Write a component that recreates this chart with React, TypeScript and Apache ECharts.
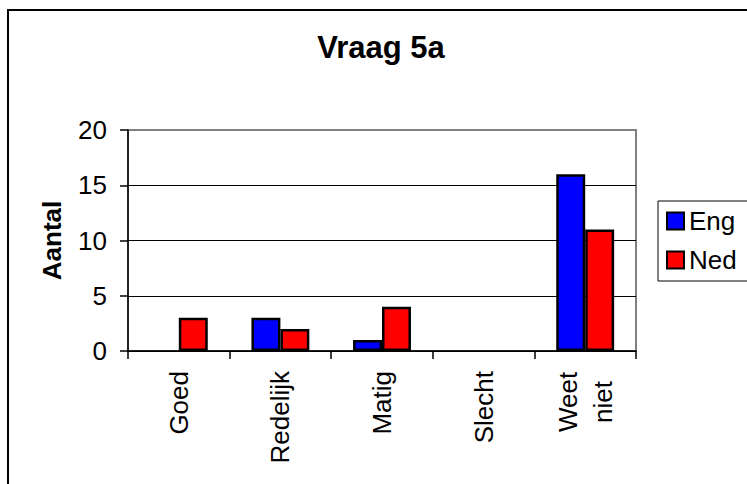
import React, { useEffect, useRef } from "react";
import * as echarts from "echarts";

const categories = ["Goed", "Redelijk", "Matig", "Slecht", "Weet niet"];
const engValues = [0, 3, 1, 0, 16];
const nedValues = [3, 2, 4, 0, 11];
const seriesNames = ["Eng", "Ned"];
const titleText = "Vraag 5a";
const yAxisName = "Aantal";

const FONT = "'Liberation Sans', Arial, Helvetica, sans-serif";
const FS = 26;

const toBarData = (vals: number[]) =>
  vals.map((v) => (v === 0 ? { value: v, itemStyle: { borderWidth: 0 } } : v));

export default function App() {
  const ref = useRef<HTMLDivElement>(null);
  useEffect(() => {
    if (!ref.current) return;
    const chart = echarts.init(ref.current, null, { renderer: "svg" });
    chart.setOption({
      animation: false,
      backgroundColor: "#ffffff",
      textStyle: { fontFamily: FONT, color: "#000" },
      graphic: [
        {
          type: "rect",
          shape: { x: 8, y: 10, width: 900, height: 600 },
          style: { fill: "none", stroke: "#000", lineWidth: 2 },
          z: 100,
        },
        {
          type: "rect",
          shape: { x: 658, y: 201, width: 200, height: 80 },
          style: { fill: "#fff", stroke: "#000", lineWidth: 1 },
          z: -1,
        },
        {
          type: "text",
          x: 381,
          y: 47,
          style: {
            text: titleText,
            font: `bold 31px ${FONT}`,
            fill: "#000",
            align: "center",
            verticalAlign: "middle",
          },
        },
      ],
      legend: {
        orient: "vertical",
        left: 666,
        top: 208,
        itemWidth: 17,
        itemHeight: 17,
        itemGap: 13,
        itemTextGap: 7,
        icon: "rect",
        padding: 0,
        textStyle: { fontSize: FS, fontFamily: FONT, color: "#000" },
        data: seriesNames,
      },
      grid: {
        left: 128,
        top: 130,
        right: 111,
        bottom: 133,
        show: true,
        borderColor: "#808080",
        borderWidth: 2,
        backgroundColor: "transparent",
      },
      xAxis: {
        type: "category",
        data: categories,
        axisLine: { lineStyle: { color: "#000", width: 1.5 } },
        axisTick: { show: true, length: 8, lineStyle: { color: "#000", width: 1.5 } },
        axisLabel: {
          rotate: 90,
          margin: 20,
          fontSize: FS,
          fontFamily: FONT,
          color: "#000",
          interval: 0,
          formatter: (v: string) => {
            const parts = v.split(" ");
            if (parts.length > 1) return parts.map((p) => `{w|${p}}`).join("\n");
            return v;
          },
          rich: {
            w: {
              width: 62,
              align: "center",
              lineHeight: 35,
              fontSize: FS,
              fontFamily: FONT,
              color: "#000",
            },
          },
        },
      },
      yAxis: {
        type: "value",
        min: 0,
        max: 20,
        interval: 5,
        name: yAxisName,
        nameLocation: "middle",
        nameGap: 63,
        nameRotate: 90,
        nameTextStyle: { fontSize: FS, fontWeight: "bold", fontFamily: FONT, color: "#000" },
        axisLine: { show: true, lineStyle: { color: "#000", width: 1.5 } },
        axisTick: { show: true, length: 8, lineStyle: { color: "#000", width: 1.5 } },
        axisLabel: { margin: 21, fontSize: FS, fontFamily: FONT, color: "#000" },
        splitLine: { show: true, showMaxLine: false, lineStyle: { color: "#000", width: 1 } },
      },
      series: [
        {
          name: seriesNames[0],
          type: "bar",
          data: toBarData(engValues),
          barGap: "0%",
          barCategoryGap: "43%",
          itemStyle: { color: "#0000ff", borderColor: "#000", borderWidth: 2.5 },
        },
        {
          name: seriesNames[1],
          type: "bar",
          data: toBarData(nedValues),
          barGap: "0%",
          barCategoryGap: "43%",
          itemStyle: { color: "#ff0000", borderColor: "#000", borderWidth: 2.5 },
        },
      ],
    });
    return () => chart.dispose();
  }, []);
  return (
    <div
      ref={ref}
      style={{ position: "fixed", left: 0, top: 0, width: 747, height: 484 }}
    />
  );
}
